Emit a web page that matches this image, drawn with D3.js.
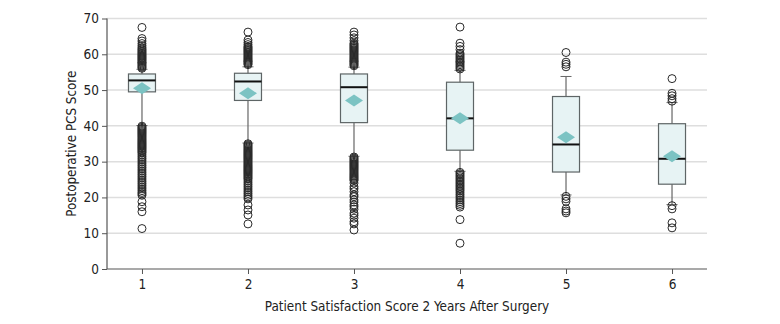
<!DOCTYPE html>
<html>
<head>
<meta charset="utf-8">
<script src="https://cdn.jsdelivr.net/npm/d3@7"></script>
<style>
  html, body { margin: 0; padding: 0; background: #fff; }
  svg text { font-family: "Liberation Sans Narrow", "DejaVu Sans Condensed", "Roboto", sans-serif; fill: #222; }
</style>
</head>
<body>
<svg id="chart" width="780" height="324"></svg>
<script>
// ---- data ----
const categories = ["1", "2", "3", "4", "5", "6"];
const q1 = [49.5, 47.1, 40.9, 33.2, 27.1, 23.7];
const medians = [52.7, 52.4, 50.8, 42.1, 34.8, 30.8];
const q3 = [54.5, 54.7, 54.5, 52.2, 48.2, 40.6];
const means = [50.5, 49.1, 47.1, 42.1, 36.8, 31.5];
const whiskerLow = [40.1, 35.2, 31.5, 27.3, 20.7, 18.0];
const whiskerHigh = [55.8, 56.5, 56.4, 55.5, 53.8, 46.5];

const outliers1 = [67.5, 64.4, 63.7, 63.0, 62.4, 61.9, 61.5, 61.2, 60.9, 60.6, 60.3, 60.0, 59.7, 59.4, 59.1, 58.8, 58.5, 58.2, 57.9, 57.6, 57.3, 57.0, 56.7, 56.4, 56.1,
  39.9, 39.6, 39.3, 39.0, 38.7, 38.4, 38.1, 37.8, 37.5, 37.2, 36.9, 36.6, 36.3, 36.0, 35.7, 35.4, 35.1, 34.8, 34.5, 34.2, 33.9, 33.6, 33.3, 33.0, 32.7, 32.4,
  31.9, 31.4, 30.9, 30.4, 29.9, 29.4, 28.9, 28.4, 27.9, 27.4, 26.9, 26.4, 25.9, 25.4, 24.9, 24.4, 23.9, 23.4, 22.9, 22.4, 21.9, 21.4, 21.0, 20.6,
  18.8, 17.4, 16.0, 11.3];
const outliers2 = [66.2, 64.0, 63.3, 62.7, 62.2, 61.9, 61.6, 61.3, 61.0, 60.7, 60.4, 60.1, 59.8, 59.5, 59.2, 58.9, 58.6, 58.3, 58.0, 57.7, 57.4, 57.1,
  35.0, 34.7, 34.4, 34.1, 33.8, 33.5, 33.2, 32.9, 32.6, 32.3, 32.0, 31.7, 31.4, 31.1, 30.8, 30.5, 30.2, 29.9, 29.6, 29.3, 29.0, 28.7, 28.4, 28.1, 27.8, 27.5, 27.2, 26.9, 26.6, 26.3, 26.0, 25.7, 25.4, 25.1,
  24.6, 24.1, 23.6, 23.1, 22.6, 22.1, 21.6, 21.1, 20.6, 20.1, 19.6, 17.9, 16.5, 15.1, 12.6];
const outliers3 = [66.2, 65.4, 64.6, 63.8, 63.1, 62.8, 62.5, 62.2, 61.9, 61.6, 61.3, 61.0, 60.7, 60.4, 60.1, 59.8, 59.5, 59.2, 58.9, 58.6, 58.3, 58.0, 57.7, 57.4, 57.1, 56.8,
  31.3, 31.0, 30.7, 30.4, 30.1, 29.8, 29.5, 29.2, 28.9, 28.6, 28.3, 28.0, 27.7, 27.4, 27.1, 26.8, 26.5, 26.2, 25.9, 25.6, 25.3, 25.0, 24.7,
  24.0, 23.0, 22.4, 21.6, 20.7, 20.2, 19.3, 18.7, 17.9, 17.4, 16.7, 15.6, 15.0, 14.2, 13.2, 12.6, 10.9];
const outliers4 = [67.6, 63.1, 62.2, 61.3, 60.3, 59.9, 59.5, 59.1, 58.7, 58.3, 57.9, 57.5, 57.1, 56.7, 56.3, 55.9,
  27.0, 26.6, 26.2, 25.8, 25.4, 25.0, 24.6, 24.2, 23.8, 23.4, 23.0, 22.6, 22.2, 21.8, 21.3, 20.8, 20.3, 19.8, 19.3, 18.8, 18.3, 17.8, 17.3,
  13.8, 7.2];
const outliers5 = [60.5, 57.8, 57.2, 56.5, 20.3, 19.6, 18.9, 16.8, 16.2, 15.7];
const outliers6 = [53.2, 49.1, 48.4, 47.6, 46.9, 17.7, 16.8, 12.9, 11.5];
const outliers = [outliers1, outliers2, outliers3, outliers4, outliers5, outliers6];

const yTicks = [0, 10, 20, 30, 40, 50, 60, 70];
const xTitle = "Patient Satisfaction Score 2 Years After Surgery";
const yTitle = "Postoperative PCS Score";

// ---- layout ----
const padL = 107, padR = 707, padT = 18.5, padB = 269;
const svg = d3.select("#chart");

const x = d3.scalePoint().domain(categories).range([padL, padR]).padding(0.33);
const y = d3.scaleLinear().domain([0, 70]).range([padB, padT]);

// gridlines
svg.append("g").selectAll("line").data(yTicks.filter(d => d > 0)).join("line")
  .attr("x1", padL).attr("x2", padR)
  .attr("y1", d => y(d)).attr("y2", d => y(d))
  .attr("stroke", "#dedede").attr("stroke-width", 1.5);

// axes
const yAxis = svg.append("g").attr("transform", `translate(${padL},0)`)
  .call(d3.axisLeft(y).tickValues(yTicks).tickSize(5).tickPadding(3));
const xAxis = svg.append("g").attr("transform", `translate(0,${padB})`)
  .call(d3.axisBottom(x).tickSize(5).tickPadding(5));
[yAxis, xAxis].forEach(g => {
  g.select(".domain").attr("stroke", "#555").attr("stroke-width", 1.2);
  g.selectAll(".tick line").attr("stroke", "#555");
  g.selectAll(".tick text").style("font-size", "13.5px").attr("fill", "#222");
});
xAxis.select(".domain").attr("d", `M${padL},0H${padR}`);
yAxis.select(".domain").attr("d", `M0,${padT}V${padB}`);

// titles
svg.append("text").attr("x", (padL + padR) / 2).attr("y", 311)
  .attr("text-anchor", "middle").style("font-size", "13.4px").text(xTitle);
svg.append("text").attr("transform", `translate(76,${(padT + padB) / 2}) rotate(-90)`)
  .attr("text-anchor", "middle").style("font-size", "13.3px").text(yTitle);

// boxes
const boxW = 27, capW = 11, dW = 9, dH = 6;
const stats = categories.map((c, i) => ({
  c, i, q1: q1[i], med: medians[i], q3: q3[i], mean: means[i], lo: whiskerLow[i], hi: whiskerHigh[i]
}));
const g = svg.append("g");
const groups = g.selectAll("g.box").data(stats).join("g").attr("class", "box");

groups.append("line").attr("x1", d => x(d.c)).attr("x2", d => x(d.c))
  .attr("y1", d => y(d.hi)).attr("y2", d => y(d.lo))
  .attr("stroke", "#666").attr("stroke-width", 1.2);
groups.append("line").attr("x1", d => x(d.c) - capW / 2).attr("x2", d => x(d.c) + capW / 2)
  .attr("y1", d => y(d.hi)).attr("y2", d => y(d.hi)).attr("stroke", "#666");
groups.append("line").attr("x1", d => x(d.c) - capW / 2).attr("x2", d => x(d.c) + capW / 2)
  .attr("y1", d => y(d.lo)).attr("y2", d => y(d.lo)).attr("stroke", "#666");

// outliers
groups.each(function (d) {
  d3.select(this).selectAll("circle").data(outliers[d.i]).join("circle")
    .attr("cx", x(d.c)).attr("cy", v => y(v)).attr("r", 4)
    .attr("fill", "none").attr("stroke", "#2a2a2a").attr("stroke-width", 1);
});

groups.append("rect").attr("x", d => x(d.c) - boxW / 2).attr("width", boxW)
  .attr("y", d => y(d.q3)).attr("height", d => y(d.q1) - y(d.q3))
  .attr("fill", "#e7f3f4").attr("stroke", "#5e6566").attr("stroke-width", 1.2);
groups.append("line").attr("x1", d => x(d.c) - boxW / 2).attr("x2", d => x(d.c) + boxW / 2)
  .attr("y1", d => y(d.med)).attr("y2", d => y(d.med))
  .attr("stroke", "#111").attr("stroke-width", 2);
groups.append("path")
  .attr("d", d => {
    const cx = x(d.c), cy = y(d.mean);
    return `M${cx - dW},${cy}L${cx},${cy - dH}L${cx + dW},${cy}L${cx},${cy + dH}Z`;
  })
  .attr("fill", "#7cc3c3");
</script>
</body>
</html>
